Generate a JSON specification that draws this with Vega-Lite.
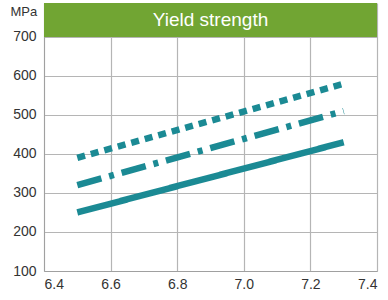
{
  "$schema": "https://vega.github.io/schema/vega-lite/v6.json",
  "width": 333,
  "height": 268,
  "autosize": "none",
  "padding": {"left": 44, "top": 3, "right": 11, "bottom": 29},
  "background": "white",
  "config": {
    "view": {"stroke": null},
    "font": "Liberation Sans",
    "axis": {"gridColor": "#b5b5b5", "gridWidth": 1.2, "domainColor": "#a0a0a0", "ticks": false, "labelColor": "#333333", "labelFontSize": 14, "labelFont": "Liberation Sans"}
  },
  "datasets": {
    "lines": [
      {"series": "solid", "x": 6.5, "y": 250},
      {"series": "solid", "x": 7.3, "y": 430},
      {"series": "dashdot", "x": 6.5, "y": 320},
      {"series": "dashdot", "x": 7.3, "y": 510},
      {"series": "dotted", "x": 6.5, "y": 390},
      {"series": "dotted", "x": 7.3, "y": 580}
    ],
    "header": [{"x1": 6.4, "x2": 7.4, "y1": 700, "y2": 787, "xm": 6.9, "ym": 743, "label": "Yield strength"}]
  },
  "layer": [
    {
      "data": {"name": "header"},
      "mark": {"type": "rect", "color": "#71a533"},
      "encoding": {
        "x": {"field": "x1", "type": "quantitative", "scale": {"domain": [6.4, 7.4], "nice": false, "zero": false},
              "axis": {"values": [6.4, 6.6, 6.8, 7.0, 7.2, 7.4], "format": ".1f", "title": null, "labelPadding": 6, "domain": true}},
        "x2": {"field": "x2"},
        "y": {"field": "y1", "type": "quantitative", "scale": {"domain": [100, 787], "nice": false, "zero": false},
              "axis": {"values": [100, 200, 300, 400, 500, 600, 700], "title": "MPa", "titleAngle": 0, "titleX": -34, "titleY": 8, "titleAlign": "left", "titleBaseline": "middle", "titleFontSize": 13, "titleFontWeight": "normal", "titleColor": "#333333", "titleFont": "Liberation Sans", "labelPadding": 8}},
        "y2": {"field": "y2"}
      }
    },
    {
      "data": {"name": "header"},
      "mark": {"type": "text", "color": "white", "fontSize": 19, "font": "Liberation Sans", "baseline": "middle", "align": "center"},
      "encoding": {
        "x": {"field": "xm", "type": "quantitative"},
        "y": {"field": "ym", "type": "quantitative"},
        "text": {"field": "label"}
      }
    },
    {
      "data": {"name": "lines"},
      "mark": {"type": "line", "color": "#1b8a94", "strokeWidth": 6.5, "strokeCap": "butt"},
      "encoding": {
        "x": {"field": "x", "type": "quantitative"},
        "y": {"field": "y", "type": "quantitative"},
        "detail": {"field": "series"},
        "strokeDash": {"field": "series", "type": "nominal",
          "scale": {"domain": ["solid", "dashdot", "dotted"], "range": [[1, 0], [25, 8, 5, 8], [8, 6]]},
          "legend": null}
      }
    }
  ]
}
